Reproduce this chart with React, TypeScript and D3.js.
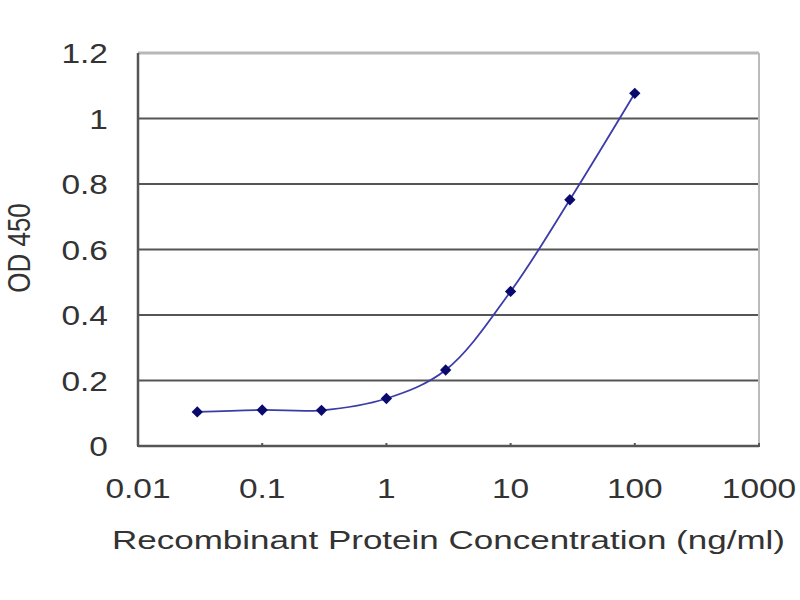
import { useEffect, useRef } from 'react';
import * as d3 from 'd3';

// Concentration (ng/ml) vs OD 450 readings
const concentrations = [0.03, 0.1, 0.3, 1, 3, 10, 30, 100];
const odValues = [0.104, 0.11, 0.109, 0.145, 0.232, 0.472, 0.752, 1.077];
const xTicks = [0.01, 0.1, 1, 10, 100, 1000];
const yTicks = [0, 0.2, 0.4, 0.6, 0.8, 1, 1.2];
const xTitle = 'Recombinant Protein Concentration (ng/ml)';
const yTitle = 'OD 450';

const App = () => {
  const svgRef = useRef<SVGSVGElement>(null);

  useEffect(() => {
    if (!svgRef.current) return;
    const svg = d3.select(svgRef.current);
    svg.selectAll('*').remove();

    const left = 138, right = 759, top = 53, bottom = 446;
    const font = 'Liberation Sans, Arial, sans-serif';
    const stretch = 1.24; // the original image is widened horizontally

    const x = d3.scaleLog().domain([0.01, 1000]).range([left, right]);
    const y = d3.scaleLinear().domain([0, 1.2]).range([bottom, top]);

    svg.append('rect')
      .attr('width', 800).attr('height', 600).attr('fill', '#fff');

    // horizontal gridlines
    svg.selectAll('.grid')
      .data(yTicks.filter(d => d > 0))
      .enter().append('line')
      .attr('x1', left).attr('x2', right)
      .attr('y1', d => y(d)).attr('y2', d => y(d))
      .attr('stroke', d => (d === 1.2 ? '#b8b8b8' : '#555'))
      .attr('stroke-width', d => (d === 1.2 ? 3 : 2.2));

    // right border
    svg.append('line')
      .attr('x1', right).attr('x2', right)
      .attr('y1', top).attr('y2', bottom)
      .attr('stroke', '#bbb').attr('stroke-width', 2);

    // axes
    svg.append('line')
      .attr('x1', left).attr('x2', left)
      .attr('y1', top).attr('y2', bottom)
      .attr('stroke', '#555').attr('stroke-width', 2.5);
    svg.append('line')
      .attr('x1', left).attr('x2', right)
      .attr('y1', bottom).attr('y2', bottom)
      .attr('stroke', '#555').attr('stroke-width', 2.5);

    // x ticks
    svg.selectAll('.xtick')
      .data(xTicks)
      .enter().append('line')
      .attr('x1', d => x(d)).attr('x2', d => x(d))
      .attr('y1', bottom - 3).attr('y2', bottom + 1)
      .attr('stroke', '#555').attr('stroke-width', 2);

    svg.selectAll('.xlabel')
      .data(xTicks)
      .enter().append('text')
      .attr('transform', d => `translate(${x(d)},${bottom + 52}) scale(${stretch},1)`)
      .attr('text-anchor', 'middle')
      .attr('font-family', font).attr('font-size', 27)
      .attr('fill', '#333')
      .text(d => String(d));

    svg.selectAll('.ylabel')
      .data(yTicks)
      .enter().append('text')
      .attr('transform', d => `translate(${left - 30},${y(d) + 10}) scale(${stretch},1)`)
      .attr('text-anchor', 'end')
      .attr('font-family', font).attr('font-size', 27)
      .attr('fill', '#333')
      .text(d => String(d));

    svg.append('text')
      .attr('x', 112).attr('y', 549)
      .attr('font-family', font).attr('font-size', 26)
      .attr('fill', '#333')
      .attr('textLength', 673)
      .attr('lengthAdjust', 'spacingAndGlyphs')
      .text(xTitle);

    svg.append('text')
      .attr('transform', `translate(30,248) scale(${stretch},1) rotate(-90)`)
      .attr('text-anchor', 'middle')
      .attr('font-family', font).attr('font-size', 26)
      .attr('fill', '#333')
      .text(yTitle);

    const pts = concentrations.map((c, i) => [x(c), y(odValues[i])] as [number, number]);

    svg.append('path')
      .datum(pts)
      .attr('fill', 'none')
      .attr('stroke', '#3c3ca8')
      .attr('stroke-width', 1.8)
      .attr('d', d3.line().curve(d3.curveCatmullRom.alpha(0.5)));

    svg.selectAll('.pt')
      .data(pts)
      .enter().append('path')
      .attr('transform', d => `translate(${d[0]},${d[1]}) rotate(45)`)
      .attr('d', d3.symbol(d3.symbolSquare, 64)())
      .attr('fill', '#0a0a6e');
  }, []);

  return (
    <svg
      ref={svgRef}
      width={800}
      height={600}
      style={{ position: 'absolute', left: 0, top: 0 }}
    />
  );
};

export default App;
